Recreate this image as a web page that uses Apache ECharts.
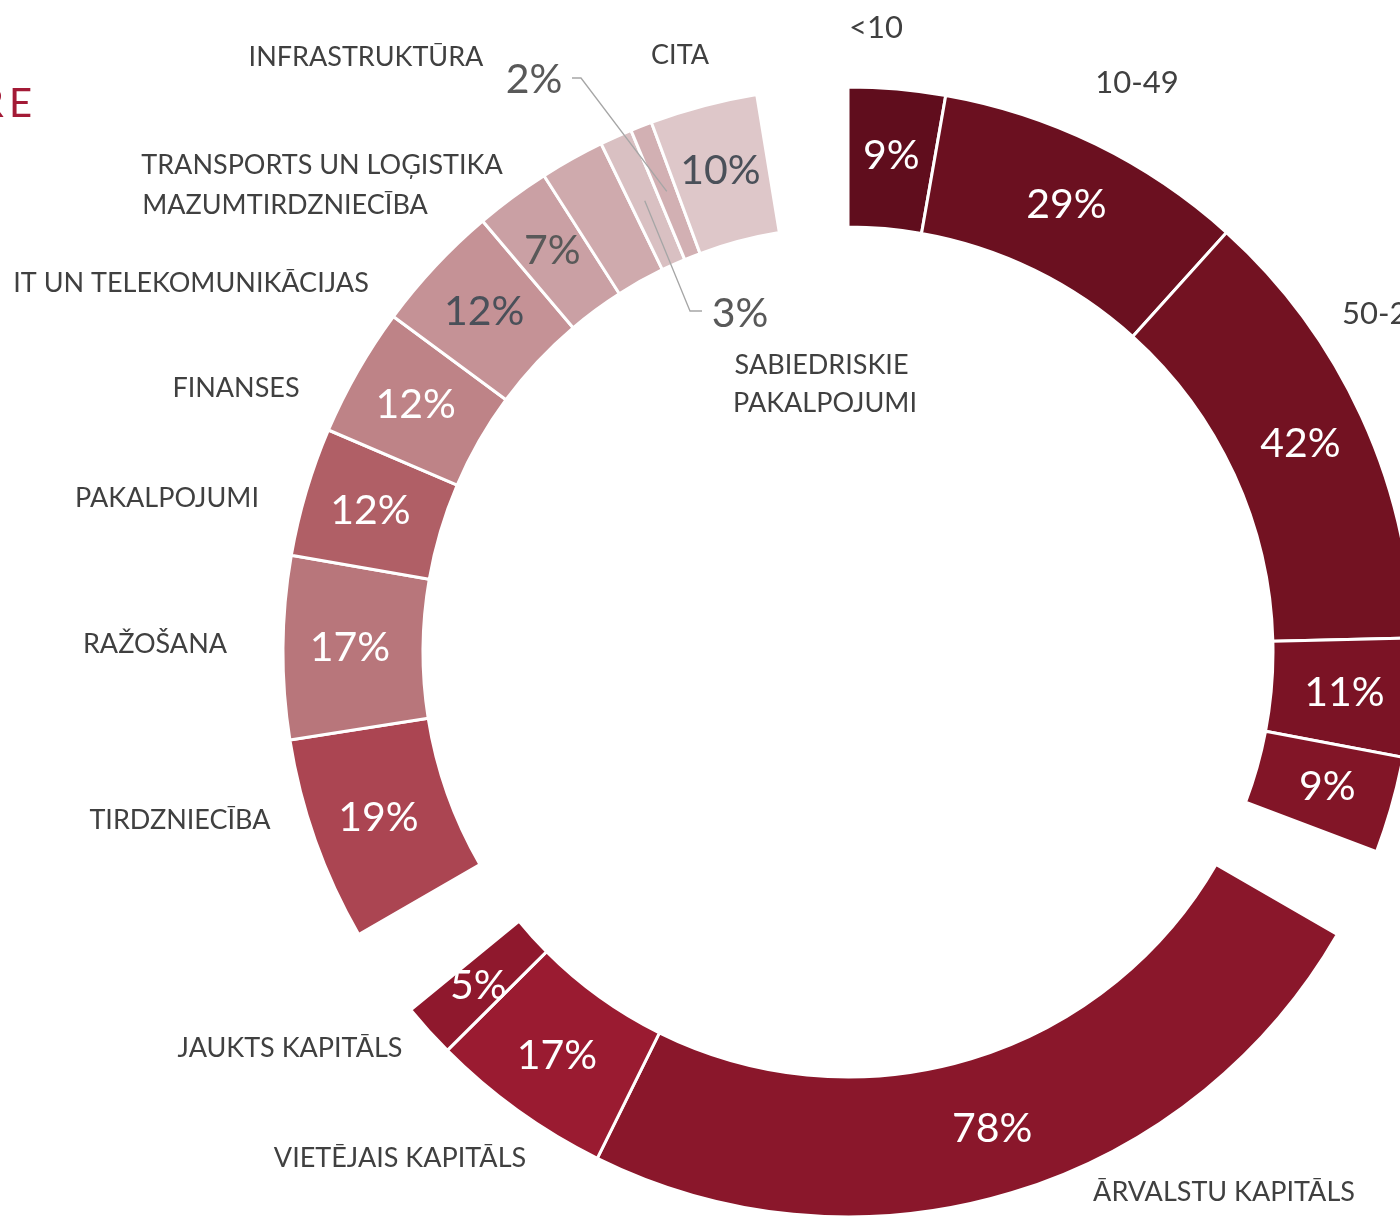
<!DOCTYPE html>
<html>
<head>
<meta charset="utf-8">
<script src="https://cdn.jsdelivr.net/npm/echarts@6/dist/echarts.min.js"></script>
<style>
  html, body { margin: 0; padding: 0; background: #fff; }
  #chart { width: 1400px; height: 1216px; }
</style>
</head>
<body>
<div id="chart"></div>
<script>
// uzņēmuma lielums (darbinieku skaits) - pēdējās divas grupas ir ārpus attēla
const sizeNames = ['<10', '10-49', '50-249', '250-499', '500+'];
const sizeValues = [9, 29, 42, 11, 9];

// kapitāla izcelsme
const capitalNames = ['ĀRVALSTU KAPITĀLS', 'VIETĒJAIS KAPITĀLS', 'JAUKTS KAPITĀLS'];
const capitalValues = [78, 17, 5];

// nozare
const industryNames = [
  'TIRDZNIECĪBA', 'RAŽOŠANA', 'PAKALPOJUMI', 'FINANSES', 'IT UN TELEKOMUNIKĀCIJAS',
  'MAZUMTIRDZNIECĪBA', 'TRANSPORTS UN LOĢISTIKA', 'SABIEDRISKIE PAKALPOJUMI', 'INFRASTRUKTŪRA', 'CITA'
];
const industryValues = [19, 17, 12, 12, 12, 7, 6, 3, 2, 10];

// styles
const sizeColors = ['#600d1d', '#6b1020', '#731222', '#7b1325', '#821527'];
const capitalColors = ['#8a172b', '#9a1b31', '#8f182d'];
const industryColors = ['#ab4552', '#b8767b', '#b05f66', '#be8387', '#c59296',
  '#caa0a4', '#cfaaad', '#d9c0c2', '#d2b0b3', '#dec7c9'];
const WHITE = '#ffffff';
const GREY = '#595959';
const SLATE = '#4a5059';
const sizeText = [WHITE, WHITE, WHITE, WHITE, WHITE];
const capitalText = [WHITE, WHITE, WHITE];
const industryText = [WHITE, WHITE, WHITE, WHITE, SLATE, GREY, GREY, GREY, GREY, SLATE];

const GAP = 8.4;          // empty space between the three rings
const CENTER = [848, 652];
const FONT = 'Lato';

// where the category names sit: [x, y, align, wrapWidth, fontSize]
const nameSpots = {
  '<10': [876, 28, 'center', 0, 31],
  '10-49': [1137, 83, 'center', 0, 31],
  '50-249': [1342, 314, 'left', 0, 31],
  '250-499': [1412, 690, 'left', 0, 31],
  '500+': [1412, 830, 'left', 0, 31],
  'ĀRVALSTU KAPITĀLS': [1224, 1192, 'center'],
  'VIETĒJAIS KAPITĀLS': [400, 1158, 'center'],
  'JAUKTS KAPITĀLS': [290, 1048, 'center'],
  'TIRDZNIECĪBA': [180, 820, 'center'],
  'RAŽOŠANA': [155, 644, 'center'],
  'PAKALPOJUMI': [167, 498, 'center'],
  'FINANSES': [236, 388, 'center'],
  'IT UN TELEKOMUNIKĀCIJAS': [191, 283, 'center'],
  'MAZUMTIRDZNIECĪBA': [285, 205, 'center'],
  'TRANSPORTS UN LOĢISTIKA': [322, 165, 'center'],
  'SABIEDRISKIE PAKALPOJUMI': [825, 384, 'center', 200],
  'INFRASTRUKTŪRA': [366, 57, 'center'],
  'CITA': [680, 55, 'center']
};

// small slices whose value sits outside with a leader line
const leaderSpots = {
  'INFRASTRUKTŪRA': { x: 534, y: 80, align: 'center', bend: [581, 78], end: [572, 78] },
  'SABIEDRISKIE PAKALPOJUMI': { x: 740, y: 314, align: 'center', bend: [690, 311], end: [702, 311] }
};

const groups = [
  { names: sizeNames, values: sizeValues, colors: sizeColors, text: sizeText },
  { names: capitalNames, values: capitalValues, colors: capitalColors, text: capitalText },
  { names: industryNames, values: industryValues, colors: industryColors, text: industryText }
];

const items = [];
groups.forEach(g => {
  g.names.forEach((name, i) => {
    items.push({ name: name, value: g.values[i], color: g.colors[i], textColor: g.text[i] });
  });
  items.push({ name: '', value: GAP, gap: true });
});

const hidden = { color: 'transparent', borderWidth: 0 };

const ringData = items.map(it => it.gap ? {
  name: '', value: it.value, itemStyle: hidden, label: { show: false }
} : {
  name: it.name, value: it.value,
  itemStyle: { color: it.color },
  label: { show: !leaderSpots[it.name], color: it.textColor }
});

const nameData = items.map(it => {
  const spot = nameSpots[it.name];
  const label = { show: !it.gap };
  if (spot && spot[3]) {
    label.width = spot[3];
    label.overflow = 'break';
  }
  if (spot && spot[4]) label.fontSize = spot[4];
  return { name: it.name, value: it.value, label: label };
});

const leaderData = items.map(it => ({
  name: it.name, value: it.value,
  label: { show: !!leaderSpots[it.name] },
  labelLine: { show: !!leaderSpots[it.name] }
}));

const chart = echarts.init(document.getElementById('chart'));

chart.setOption({
  backgroundColor: '#ffffff',
  animation: false,
  graphic: [{
    type: 'text',
    x: 32,
    y: 104,
    style: {
      text: '{l|STRUCTUR}{r|E}',
      fill: '#a31a36',
      font: '40px Lato',
      align: 'right',
      textAlign: 'right',
      verticalAlign: 'middle',
      textVerticalAlign: 'middle',
      rich: {
        l: { fill: '#a31a36', font: '40px Lato' },
        r: { fill: '#a31a36', font: '40px Lato', padding: [0, 0, 0, 5] }
      }
    }
  }],
  series: [
    {
      name: 'ring',
      type: 'pie',
      z: 2,
      center: CENTER,
      radius: [425, 565],
      startAngle: 90,
      silent: true,
      avoidLabelOverlap: false,
      itemStyle: { borderColor: '#ffffff', borderWidth: 3 },
      label: {
        position: 'inside',
        formatter: '{c}%',
        fontFamily: FONT,
        fontSize: 41
      },
      labelLine: { show: false },
      data: ringData
    },
    {
      name: 'names',
      type: 'pie',
      z: 3,
      center: CENTER,
      radius: [425, 565],
      startAngle: 90,
      silent: true,
      avoidLabelOverlap: false,
      itemStyle: hidden,
      label: {
        position: 'outside',
        formatter: '{b}',
        color: '#404040',
        fontFamily: FONT,
        fontSize: 27,
        lineHeight: 38
      },
      labelLine: { show: false },
      labelLayout: function (p) {
        const spot = nameSpots[items[p.dataIndex].name];
        if (!spot) return {};
        return { x: spot[0], y: spot[1], align: spot[2], verticalAlign: 'middle' };
      },
      data: nameData
    },
    {
      name: 'leaders',
      type: 'pie',
      z: 4,
      center: CENTER,
      radius: [0, 495],
      startAngle: 90,
      silent: true,
      avoidLabelOverlap: false,
      itemStyle: hidden,
      label: {
        position: 'outside',
        formatter: '{c}%',
        color: GREY,
        fontFamily: FONT,
        fontSize: 41
      },
      labelLine: {
        length: 10,
        length2: 10,
        lineStyle: { color: '#a6a6a6', width: 1.3 }
      },
      labelLayout: function (p) {
        const spot = leaderSpots[items[p.dataIndex].name];
        if (!spot || !p.labelLinePoints) return {};
        return {
          x: spot.x,
          y: spot.y,
          align: spot.align,
          verticalAlign: 'middle',
          labelLinePoints: [p.labelLinePoints[0], spot.bend, spot.end]
        };
      },
      data: leaderData
    }
  ]
});
</script>
</body>
</html>
